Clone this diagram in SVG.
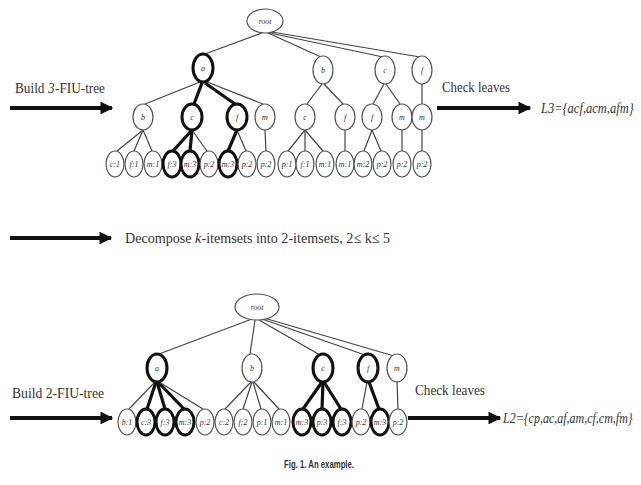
<svg xmlns="http://www.w3.org/2000/svg" width="641" height="485" viewBox="0 0 641 485">
<style>
.n{fill:#fff;stroke:#555;stroke-width:1.2}
.b{fill:#fff;stroke:#111;stroke-width:3}
.e{stroke:#444;stroke-width:1.2;fill:none}
.eb{stroke:#111;stroke-width:3.2;fill:none}
.t{font-family:"Liberation Serif",serif;font-style:italic;font-size:8px;fill:#333;text-anchor:middle}
.lab{font-family:"Liberation Serif",serif;font-size:15px;fill:#333}
.it{font-family:"Liberation Serif",serif;font-style:italic;font-size:15px;fill:#333}
.set{font-family:"Liberation Serif",serif;font-style:italic;fill:#333}
.ar{stroke:#111;stroke-width:4;fill:none}
</style>
<defs>
<marker id="ah" viewBox="0 0 10 10" refX="9" refY="5" markerWidth="4" markerHeight="3.2" orient="auto" markerUnits="strokeWidth">
<path d="M0,0 L10,5 L0,10 z" fill="#111"/>
</marker>
</defs>
<rect width="641" height="485" fill="#fff"/>
<g id="connectors">
<line class="e" x1="262" y1="33" x2="205" y2="54"/>
<line class="e" x1="268" y1="33" x2="321" y2="57"/>
<line class="e" x1="270" y1="33" x2="383" y2="57"/>
<line class="e" x1="272" y1="32" x2="420" y2="57"/>
<line class="e" x1="200" y1="82" x2="145" y2="104"/>
<line class="eb" x1="202" y1="83" x2="194" y2="104"/>
<line class="eb" x1="205" y1="83" x2="235" y2="104"/>
<line class="e" x1="207" y1="82" x2="263" y2="104"/>
<line class="e" x1="322" y1="84" x2="307" y2="104"/>
<line class="e" x1="324" y1="84" x2="343" y2="104"/>
<line class="e" x1="384" y1="84" x2="373" y2="104"/>
<line class="e" x1="386" y1="84" x2="400" y2="104"/>
<line class="e" x1="422" y1="84" x2="422" y2="104"/>
<line class="e" x1="143" y1="130" x2="117" y2="151"/>
<line class="e" x1="143" y1="130" x2="134" y2="151"/>
<line class="e" x1="143" y1="130" x2="152" y2="151"/>
<line class="eb" x1="192" y1="130" x2="173" y2="151"/>
<line class="eb" x1="192" y1="130" x2="190" y2="151"/>
<line class="e" x1="192" y1="130" x2="207" y2="151"/>
<line class="eb" x1="237" y1="130" x2="228" y2="151"/>
<line class="e" x1="237" y1="130" x2="246" y2="151"/>
<line class="e" x1="265" y1="130" x2="266" y2="151"/>
<line class="e" x1="305" y1="130" x2="288" y2="151"/>
<line class="e" x1="305" y1="130" x2="305" y2="151"/>
<line class="e" x1="305" y1="130" x2="323" y2="151"/>
<line class="e" x1="345" y1="130" x2="345" y2="151"/>
<line class="e" x1="372" y1="130" x2="364" y2="151"/>
<line class="e" x1="372" y1="130" x2="381" y2="151"/>
<line class="e" x1="402" y1="130" x2="402" y2="151"/>
<line class="e" x1="422" y1="130" x2="422" y2="151"/>
<line class="e" x1="252" y1="319" x2="159" y2="354"/>
<line class="e" x1="255" y1="320" x2="250" y2="354"/>
<line class="e" x1="259" y1="320" x2="320" y2="355"/>
<line class="e" x1="262" y1="319" x2="365" y2="355"/>
<line class="e" x1="264" y1="318" x2="394" y2="356"/>
<line class="e" x1="155" y1="382" x2="129" y2="409"/>
<line class="eb" x1="156" y1="382" x2="147" y2="409"/>
<line class="eb" x1="157" y1="382" x2="165" y2="409"/>
<line class="eb" x1="158" y1="382" x2="184" y2="409"/>
<line class="e" x1="159" y1="382" x2="203" y2="409"/>
<line class="e" x1="251" y1="382" x2="225" y2="409"/>
<line class="e" x1="252" y1="382" x2="243" y2="409"/>
<line class="e" x1="253" y1="382" x2="261" y2="409"/>
<line class="e" x1="254" y1="382" x2="279" y2="409"/>
<line class="eb" x1="322" y1="382" x2="303" y2="409"/>
<line class="eb" x1="323" y1="382" x2="322" y2="409"/>
<line class="eb" x1="324" y1="382" x2="341" y2="409"/>
<line class="e" x1="367" y1="382" x2="362" y2="409"/>
<line class="eb" x1="369" y1="382" x2="379" y2="409"/>
<line class="e" x1="397" y1="382" x2="398" y2="409"/>
<line class="ar" x1="10" y1="108" x2="112" y2="108" marker-end="url(#ah)"/>
<line class="ar" x1="437" y1="108" x2="530" y2="108" marker-end="url(#ah)"/>
<line class="ar" x1="10" y1="238" x2="111" y2="238" marker-end="url(#ah)"/>
<line class="ar" x1="10" y1="418" x2="112" y2="418" marker-end="url(#ah)"/>
<line class="ar" x1="408" y1="418" x2="500" y2="418" marker-end="url(#ah)"/>
</g>
<g id="t-root"><ellipse class="n" cx="265" cy="21" rx="18" ry="12"/><text class="t" x="265" y="24">root</text></g>
<g id="t-a"><ellipse class="b" cx="203" cy="68" rx="10" ry="14"/><text class="t" x="203" y="71">a</text></g>
<g id="t-b"><ellipse class="n" cx="323" cy="70" rx="10" ry="14"/><text class="t" x="323" y="73">b</text></g>
<g id="t-c"><ellipse class="n" cx="385" cy="70" rx="10" ry="14"/><text class="t" x="385" y="73">c</text></g>
<g id="t-f"><ellipse class="n" cx="422" cy="70" rx="10" ry="14"/><text class="t" x="422" y="73">f</text></g>
<g id="t-ab"><ellipse class="n" cx="143" cy="117" rx="10" ry="13"/><text class="t" x="143" y="120">b</text></g>
<g id="t-ac"><ellipse class="b" cx="192" cy="117" rx="10" ry="13"/><text class="t" x="192" y="120">c</text></g>
<g id="t-af"><ellipse class="b" cx="237" cy="117" rx="10" ry="13"/><text class="t" x="237" y="120">f</text></g>
<g id="t-am"><ellipse class="n" cx="265" cy="117" rx="10" ry="13"/><text class="t" x="265" y="120">m</text></g>
<g id="t-bc"><ellipse class="n" cx="305" cy="117" rx="10" ry="13"/><text class="t" x="305" y="120">c</text></g>
<g id="t-bf"><ellipse class="n" cx="345" cy="117" rx="10" ry="13"/><text class="t" x="345" y="120">f</text></g>
<g id="t-cf"><ellipse class="n" cx="372" cy="117" rx="10" ry="13"/><text class="t" x="372" y="120">f</text></g>
<g id="t-cm"><ellipse class="n" cx="402" cy="117" rx="10" ry="13"/><text class="t" x="402" y="120">m</text></g>
<g id="t-fm"><ellipse class="n" cx="422" cy="117" rx="10" ry="13"/><text class="t" x="422" y="120">m</text></g>
<g id="t-l1"><ellipse class="n" cx="115" cy="164" rx="9" ry="13"/><text class="t" x="115" y="167">c:1</text></g>
<g id="t-l2"><ellipse class="n" cx="134" cy="164" rx="9" ry="13"/><text class="t" x="134" y="167">f:1</text></g>
<g id="t-l3"><ellipse class="n" cx="153" cy="164" rx="9" ry="13"/><text class="t" x="153" y="167">m:1</text></g>
<g id="t-l4"><ellipse class="b" cx="172" cy="164" rx="9" ry="13"/><text class="t" x="172" y="167">f:3</text></g>
<g id="t-l5"><ellipse class="b" cx="190" cy="164" rx="9" ry="13"/><text class="t" x="190" y="167">m:3</text></g>
<g id="t-l6"><ellipse class="n" cx="209" cy="164" rx="9" ry="13"/><text class="t" x="209" y="167">p:2</text></g>
<g id="t-l7"><ellipse class="b" cx="228" cy="164" rx="9" ry="13"/><text class="t" x="228" y="167">m:3</text></g>
<g id="t-l8"><ellipse class="n" cx="247" cy="164" rx="9" ry="13"/><text class="t" x="247" y="167">p:2</text></g>
<g id="t-l9"><ellipse class="n" cx="266" cy="164" rx="9" ry="13"/><text class="t" x="266" y="167">p:2</text></g>
<g id="t-l10"><ellipse class="n" cx="287" cy="164" rx="9" ry="13"/><text class="t" x="287" y="167">p:1</text></g>
<g id="t-l11"><ellipse class="n" cx="305" cy="164" rx="9" ry="13"/><text class="t" x="305" y="167">f:1</text></g>
<g id="t-l12"><ellipse class="n" cx="325" cy="164" rx="9" ry="13"/><text class="t" x="325" y="167">m:1</text></g>
<g id="t-l13"><ellipse class="n" cx="345" cy="164" rx="9" ry="13"/><text class="t" x="345" y="167">m:1</text></g>
<g id="t-l14"><ellipse class="n" cx="363" cy="164" rx="9" ry="13"/><text class="t" x="363" y="167">m:2</text></g>
<g id="t-l15"><ellipse class="n" cx="382" cy="164" rx="9" ry="13"/><text class="t" x="382" y="167">p:2</text></g>
<g id="t-l16"><ellipse class="n" cx="402" cy="164" rx="9" ry="13"/><text class="t" x="402" y="167">p:2</text></g>
<g id="t-l17"><ellipse class="n" cx="422" cy="164" rx="9" ry="13"/><text class="t" x="422" y="167">p:2</text></g>
<g id="b-root"><ellipse class="n" cx="257" cy="307" rx="22" ry="13"/><text class="t" x="257" y="310">root</text></g>
<g id="b-a"><ellipse class="b" cx="157" cy="368" rx="10" ry="14"/><text class="t" x="157" y="371">a</text></g>
<g id="b-b"><ellipse class="n" cx="252" cy="368" rx="10" ry="14"/><text class="t" x="252" y="371">b</text></g>
<g id="b-c"><ellipse class="b" cx="323" cy="368" rx="10" ry="14"/><text class="t" x="323" y="371">c</text></g>
<g id="b-f"><ellipse class="b" cx="368" cy="368" rx="10" ry="14"/><text class="t" x="368" y="371">f</text></g>
<g id="b-m"><ellipse class="n" cx="397" cy="368" rx="10" ry="14"/><text class="t" x="397" y="371">m</text></g>
<g id="b-l1"><ellipse class="n" cx="127" cy="422" rx="9" ry="13"/><text class="t" x="127" y="425">b:1</text></g>
<g id="b-l2"><ellipse class="b" cx="146" cy="422" rx="9" ry="13"/><text class="t" x="146" y="425">c:3</text></g>
<g id="b-l3"><ellipse class="b" cx="165" cy="422" rx="9" ry="13"/><text class="t" x="165" y="425">f:3</text></g>
<g id="b-l4"><ellipse class="b" cx="185" cy="422" rx="9" ry="13"/><text class="t" x="185" y="425">m:3</text></g>
<g id="b-l5"><ellipse class="n" cx="205" cy="422" rx="9" ry="13"/><text class="t" x="205" y="425">p:2</text></g>
<g id="b-l6"><ellipse class="n" cx="224" cy="422" rx="9" ry="13"/><text class="t" x="224" y="425">c:2</text></g>
<g id="b-l7"><ellipse class="n" cx="243" cy="422" rx="9" ry="13"/><text class="t" x="243" y="425">f:2</text></g>
<g id="b-l8"><ellipse class="n" cx="262" cy="422" rx="9" ry="13"/><text class="t" x="262" y="425">p:1</text></g>
<g id="b-l9"><ellipse class="n" cx="281" cy="422" rx="9" ry="13"/><text class="t" x="281" y="425">m:1</text></g>
<g id="b-l10"><ellipse class="b" cx="302" cy="422" rx="9" ry="13"/><text class="t" x="302" y="425">m:3</text></g>
<g id="b-l11"><ellipse class="b" cx="322" cy="422" rx="9" ry="13"/><text class="t" x="322" y="425">p:3</text></g>
<g id="b-l12"><ellipse class="b" cx="342" cy="422" rx="9" ry="13"/><text class="t" x="342" y="425">f:3</text></g>
<g id="b-l13"><ellipse class="n" cx="361" cy="422" rx="9" ry="13"/><text class="t" x="361" y="425">p:2</text></g>
<g id="b-l14"><ellipse class="b" cx="380" cy="422" rx="9" ry="13"/><text class="t" x="380" y="425">m:3</text></g>
<g id="b-l15"><ellipse class="n" cx="398" cy="422" rx="9" ry="13"/><text class="t" x="398" y="425">p:2</text></g>
<g id="labels">
<text class="lab" x="15" y="93" textLength="29.5" lengthAdjust="spacingAndGlyphs">Build</text>
<text class="it" x="48" y="93" textLength="6.5" lengthAdjust="spacingAndGlyphs">3</text>
<text class="lab" x="55" y="93" textLength="50" lengthAdjust="spacingAndGlyphs">-FIU-tree</text>
<text class="lab" x="442" y="92" textLength="68" lengthAdjust="spacingAndGlyphs">Check leaves</text>
<text class="set" font-size="12.5" transform="translate(541,113) scale(1,1.2)">L3={acf,acm,afm}</text>
<text class="lab" x="125" y="243" textLength="66.5" lengthAdjust="spacingAndGlyphs">Decompose</text>
<text class="it" x="195" y="243" textLength="6.3" lengthAdjust="spacingAndGlyphs">k</text>
<text class="lab" x="201.5" y="243" textLength="188.5" lengthAdjust="spacingAndGlyphs">-itemsets into 2-itemsets, 2≤ k≤ 5</text>
<text class="lab" x="12" y="398" textLength="92" lengthAdjust="spacingAndGlyphs">Build 2-FIU-tree</text>
<text class="lab" x="415" y="395" textLength="70" lengthAdjust="spacingAndGlyphs">Check leaves</text>
<text class="set" font-size="12" transform="translate(503,423) scale(1,1.25)">L2={cp,ac,af,am,cf,cm,fm}</text>
<text x="284" y="468" font-family="Liberation Sans, sans-serif" font-size="10" font-weight="bold" fill="#333" textLength="70" lengthAdjust="spacingAndGlyphs">Fig. 1. An example.</text>
</g>
</svg>
